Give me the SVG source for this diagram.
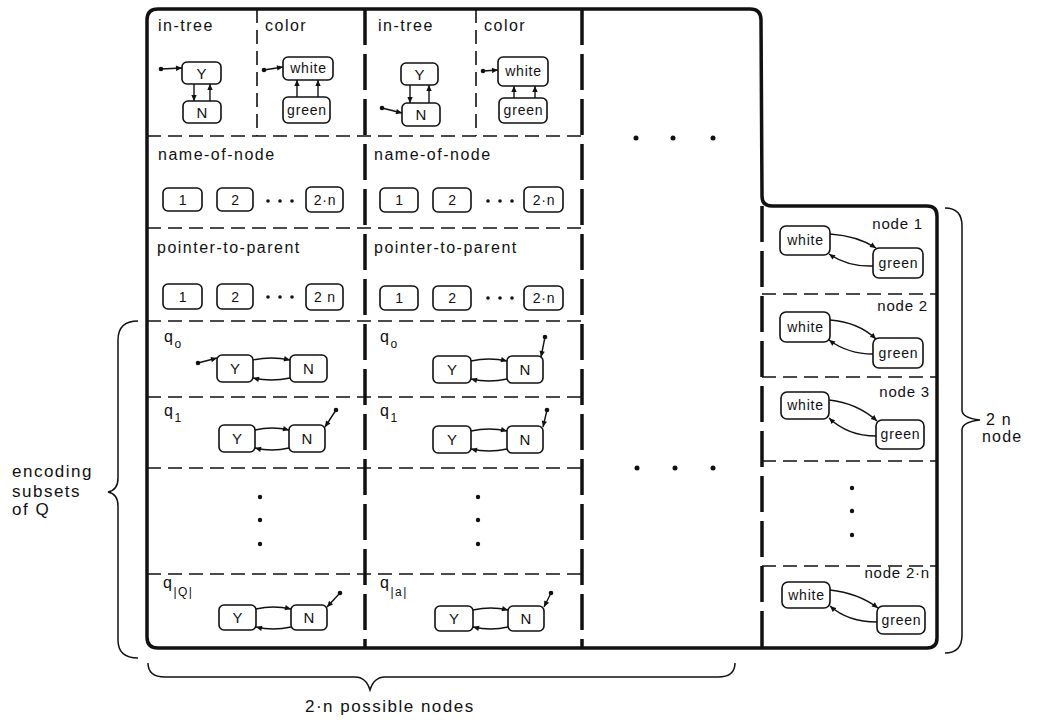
<svg xmlns="http://www.w3.org/2000/svg" width="1037" height="723" viewBox="0 0 1037 723">
<style>
.frame{fill:none;stroke:#111;stroke-width:3.5;stroke-linejoin:round}
.thick{fill:none;stroke:#111;stroke-width:3.5;stroke-dasharray:36 9}
.thin{fill:none;stroke:#111;stroke-width:1.6;stroke-dasharray:14 7}
.box{fill:#fff;stroke:#111;stroke-width:1.6}
.arr{fill:none;stroke:#111;stroke-width:1.4}
.brace{fill:none;stroke:#111;stroke-width:1.5}
.dot{fill:#111}
text{font-family:"Liberation Sans",Arial,sans-serif;fill:#111}
.lbl{font-size:16px;letter-spacing:1.5px}
.bl{font-size:14px;text-anchor:middle;letter-spacing:0.8px}
.yn{font-size:15px;text-anchor:middle}
.nl{font-size:15px;text-anchor:end;letter-spacing:0.8px}
.side{font-size:17px;letter-spacing:1.5px}
.rs{font-size:16px;letter-spacing:1.2px}
.sub{font-size:12px}
</style>
<defs>
<marker id="ah" viewBox="0 0 10 10" refX="10" refY="5" markerWidth="7" markerHeight="6" markerUnits="userSpaceOnUse" orient="auto"><path d="M0,0.5 L10,5 L0,9.5 z" fill="#111"/></marker>
</defs>

<g id="frame">
<path class="frame" d="M147,20 Q147,9 158,9 L750,9 Q761,9 761,20 L762,196 Q762,206 772,206 L927,206 Q937,206 937,216 L937,638 Q937,648 927,648 L158,648 Q147,648 147,637 Z"/>
<line class="thick" x1="365" y1="9" x2="365" y2="648"/>
<line class="thick" x1="582" y1="9" x2="582" y2="648"/>
<line class="thick" x1="762" y1="206" x2="762" y2="648"/>
<line class="thin" x1="257" y1="9" x2="257" y2="136"/>
<line class="thin" x1="476" y1="9" x2="476" y2="136"/>
<line class="thin" x1="147" y1="136" x2="582" y2="136"/>
<line class="thin" x1="147" y1="228" x2="582" y2="228"/>
<line class="thin" x1="147" y1="321" x2="582" y2="321"/>
<line class="thin" x1="147" y1="397" x2="582" y2="397"/>
<line class="thin" x1="147" y1="468" x2="582" y2="468"/>
<line class="thin" x1="147" y1="574" x2="582" y2="574"/>
<line class="thin" x1="762" y1="294" x2="937" y2="294"/>
<line class="thin" x1="762" y1="377" x2="937" y2="377"/>
<line class="thin" x1="762" y1="461" x2="937" y2="461"/>
<line class="thin" x1="762" y1="566" x2="937" y2="566"/>
</g>

<g id="labels">
<text class="lbl" x="158" y="31">in-tree</text>
<text class="lbl" x="265" y="31">color</text>
<text class="lbl" x="378" y="31">in-tree</text>
<text class="lbl" x="484" y="31">color</text>
<text class="lbl" x="158" y="160">name-of-node</text>
<text class="lbl" x="374" y="160">name-of-node</text>
<text class="lbl" x="157" y="253">pointer-to-parent</text>
<text class="lbl" x="374" y="253">pointer-to-parent</text>
<text class="lbl" x="164" y="342">q<tspan class="sub" dy="6">o</tspan></text>
<text class="lbl" x="164" y="416">q<tspan class="sub" dy="6">1</tspan></text>
<text class="lbl" x="163" y="588">q<tspan class="sub" dy="8">|Q|</tspan></text>
<text class="lbl" x="380" y="342">q<tspan class="sub" dy="6">o</tspan></text>
<text class="lbl" x="380" y="416">q<tspan class="sub" dy="6">1</tspan></text>
<text class="lbl" x="380" y="588">q<tspan class="sub" dy="8">|a|</tspan></text>
<text class="nl" x="923" y="229">node 1</text>
<text class="nl" x="928" y="311">node 2</text>
<text class="nl" x="930" y="397">node 3</text>
<text class="nl" x="930" y="578">node 2·n</text>
<text class="side" x="12" y="477">encoding</text>
<text class="side" x="12" y="497">subsets</text>
<text class="side" x="12" y="515">of  Q</text>
<text class="rs" x="986" y="425">2 n</text>
<text class="rs" x="982" y="442">node</text>
<text class="side" x="305" y="712">2·n possible nodes</text>
</g>

<g id="dots">
<circle class="dot" cx="636" cy="138" r="2.5"/><circle class="dot" cx="673" cy="138" r="2.5"/><circle class="dot" cx="713" cy="138" r="2.5"/>
<circle class="dot" cx="637" cy="468" r="2.5"/><circle class="dot" cx="675" cy="468" r="2.5"/><circle class="dot" cx="713" cy="468" r="2.5"/>
<circle class="dot" cx="260" cy="497" r="2.2"/><circle class="dot" cx="260" cy="520" r="2.2"/><circle class="dot" cx="260" cy="544" r="2.2"/>
<circle class="dot" cx="478" cy="497" r="2.2"/><circle class="dot" cx="478" cy="520" r="2.2"/><circle class="dot" cx="478" cy="544" r="2.2"/>
<circle class="dot" cx="852" cy="488" r="2.2"/><circle class="dot" cx="852" cy="511" r="2.2"/><circle class="dot" cx="852" cy="535" r="2.2"/>
<circle class="dot" cx="268" cy="201" r="1.8"/><circle class="dot" cx="280" cy="201" r="1.8"/><circle class="dot" cx="292" cy="201" r="1.8"/>
<circle class="dot" cx="268" cy="297" r="1.8"/><circle class="dot" cx="280" cy="297" r="1.8"/><circle class="dot" cx="292" cy="297" r="1.8"/>
<circle class="dot" cx="488" cy="201" r="1.8"/><circle class="dot" cx="500" cy="201" r="1.8"/><circle class="dot" cx="512" cy="201" r="1.8"/>
<circle class="dot" cx="488" cy="298" r="1.8"/><circle class="dot" cx="500" cy="298" r="1.8"/><circle class="dot" cx="512" cy="298" r="1.8"/>
</g>

<g id="braces">
<path class="brace" d="M138,321 Q118,321 118,340 L118,478 Q118,490 108,492 Q118,494 118,506 L118,640 Q118,658 138,658"/>
<path class="brace" d="M945,208 Q962,208 962,226 L962,410 Q962,418 980,420 Q962,422 962,430 L962,635 Q962,653 945,653"/>
<path class="brace" d="M148,663 Q148,677 165,677 L355,677 Q366,677 370,690 Q374,677 385,677 L718,677 Q735,677 735,663"/>
</g>

<g id="connectors">
<circle class="dot" cx="161" cy="69" r="2.3"/><path class="arr" d="M161,69 L182,68" marker-end="url(#ah)"/>
<path class="arr" d="M194,84 L194,101" marker-end="url(#ah)"/>
<path class="arr" d="M210,101 L210,84" marker-end="url(#ah)"/>
<circle class="dot" cx="264" cy="70" r="2.3"/><path class="arr" d="M264,70 L283,67" marker-end="url(#ah)"/>
<path class="arr" d="M297,97 L297,80" marker-end="url(#ah)"/>
<path class="arr" d="M318,97 L318,80" marker-end="url(#ah)"/>
<circle class="dot" cx="382" cy="108" r="2.3"/><path class="arr" d="M382,108 L402,113" marker-end="url(#ah)"/>
<path class="arr" d="M410,85 L410,103" marker-end="url(#ah)"/>
<path class="arr" d="M429,103 L429,85" marker-end="url(#ah)"/>
<circle class="dot" cx="483" cy="71" r="2.3"/><path class="arr" d="M483,71 L498,70" marker-end="url(#ah)"/>
<path class="arr" d="M514,98 L514,86" marker-end="url(#ah)"/>
<path class="arr" d="M535,98 L535,86" marker-end="url(#ah)"/>
<circle class="dot" cx="198" cy="363" r="2.3"/><path class="arr" d="M198,363 L217,358" marker-end="url(#ah)"/>
<path class="arr" d="M253,360 Q271,356 290,360" marker-end="url(#ah)"/>
<path class="arr" d="M290,378 Q271,382 253,378" marker-end="url(#ah)"/>
<circle class="dot" cx="336" cy="410" r="2.3"/><path class="arr" d="M336,410 L325,427" marker-end="url(#ah)"/>
<path class="arr" d="M255,430 Q272,426 289,430" marker-end="url(#ah)"/>
<path class="arr" d="M289,448 Q272,452 255,448" marker-end="url(#ah)"/>
<circle class="dot" cx="340" cy="593" r="2.3"/><path class="arr" d="M340,593 L327,607" marker-end="url(#ah)"/>
<path class="arr" d="M256,609 Q273,605 291,609" marker-end="url(#ah)"/>
<path class="arr" d="M291,627 Q273,631 256,627" marker-end="url(#ah)"/>
<circle class="dot" cx="545" cy="337" r="2.3"/><path class="arr" d="M545,337 L541,357" marker-end="url(#ah)"/>
<path class="arr" d="M471,361 Q489,357 507,361" marker-end="url(#ah)"/>
<path class="arr" d="M507,379 Q489,383 471,379" marker-end="url(#ah)"/>
<circle class="dot" cx="547" cy="410" r="2.3"/><path class="arr" d="M547,410 L543,427" marker-end="url(#ah)"/>
<path class="arr" d="M471,431 Q489,427 507,431" marker-end="url(#ah)"/>
<path class="arr" d="M507,449 Q489,453 471,449" marker-end="url(#ah)"/>
<circle class="dot" cx="551" cy="593" r="2.3"/><path class="arr" d="M551,593 L544,607" marker-end="url(#ah)"/>
<path class="arr" d="M473,610 Q491,606 508,610" marker-end="url(#ah)"/>
<path class="arr" d="M508,627 Q491,631 473,627" marker-end="url(#ah)"/>
<path class="arr" d="M830,234 Q858,236 876,248" marker-end="url(#ah)"/>
<path class="arr" d="M873,266 Q848,267 829,254" marker-end="url(#ah)"/>
<path class="arr" d="M830,320 Q858,322 876,339" marker-end="url(#ah)"/>
<path class="arr" d="M873,354 Q848,354 829,340" marker-end="url(#ah)"/>
<path class="arr" d="M829,400 Q857,403 877,421" marker-end="url(#ah)"/>
<path class="arr" d="M876,436 Q848,436 829,418" marker-end="url(#ah)"/>
<path class="arr" d="M830,590 Q858,593 878,608" marker-end="url(#ah)"/>
<path class="arr" d="M877,622 Q848,622 830,606" marker-end="url(#ah)"/>
</g>

<g id="c1-intree-Y"><rect class="box" x="182" y="62" width="39" height="22" rx="5"/><text class="yn" x="201.5" y="79">Y</text></g>
<g id="c1-intree-N"><rect class="box" x="183" y="101" width="38" height="22" rx="5"/><text class="yn" x="202" y="118">N</text></g>
<g id="c1-color-white"><rect class="box" x="283" y="57" width="50" height="23" rx="5"/><text class="bl" x="308.5" y="73">white</text></g>
<g id="c1-color-green"><rect class="box" x="283" y="97" width="47" height="26" rx="5"/><text class="bl" x="307" y="115">green</text></g>
<g id="c2-intree-Y"><rect class="box" x="401" y="63" width="37" height="22" rx="5"/><text class="yn" x="419.5" y="80">Y</text></g>
<g id="c2-intree-N"><rect class="box" x="402" y="103" width="38" height="23" rx="5"/><text class="yn" x="421" y="120">N</text></g>
<g id="c2-color-white"><rect class="box" x="498" y="57" width="50" height="29" rx="5"/><text class="bl" x="523.5" y="76">white</text></g>
<g id="c2-color-green"><rect class="box" x="499" y="98" width="48" height="25" rx="5"/><text class="bl" x="523.5" y="115">green</text></g>

<g id="c1-name-1"><rect class="box" x="163" y="188" width="39" height="23" rx="5"/><text class="bl" x="183" y="205">1</text></g>
<g id="c1-name-2"><rect class="box" x="217" y="188" width="36" height="23" rx="5"/><text class="bl" x="235.5" y="205">2</text></g>
<g id="c1-name-2n"><rect class="box" x="306" y="187" width="37" height="25" rx="5"/><text class="bl" x="325" y="205">2·n</text></g>
<g id="c1-ptr-1"><rect class="box" x="163" y="284" width="39" height="25" rx="5"/><text class="bl" x="183" y="302">1</text></g>
<g id="c1-ptr-2"><rect class="box" x="217" y="284" width="36" height="25" rx="5"/><text class="bl" x="235.5" y="302">2</text></g>
<g id="c1-ptr-2n"><rect class="box" x="306" y="284" width="37" height="26" rx="5"/><text class="bl" x="325" y="302">2 n</text></g>
<g id="c2-name-1"><rect class="box" x="380" y="188" width="38" height="24" rx="5"/><text class="bl" x="399.5" y="205">1</text></g>
<g id="c2-name-2"><rect class="box" x="433" y="188" width="38" height="24" rx="5"/><text class="bl" x="452.5" y="205">2</text></g>
<g id="c2-name-2n"><rect class="box" x="524" y="187" width="39" height="25" rx="5"/><text class="bl" x="544" y="205">2·n</text></g>
<g id="c2-ptr-1"><rect class="box" x="380" y="286" width="38" height="24" rx="5"/><text class="bl" x="399.5" y="303">1</text></g>
<g id="c2-ptr-2"><rect class="box" x="433" y="286" width="38" height="24" rx="5"/><text class="bl" x="452.5" y="303">2</text></g>
<g id="c2-ptr-2n"><rect class="box" x="524" y="286" width="39" height="24" rx="5"/><text class="bl" x="544" y="303">2·n</text></g>

<g id="c1-q0-Y"><rect class="box" x="217" y="355" width="36" height="27" rx="5"/><text class="yn" x="235" y="374">Y</text></g>
<g id="c1-q0-N"><rect class="box" x="290" y="355" width="37" height="27" rx="5"/><text class="yn" x="308.5" y="374">N</text></g>
<g id="c1-q1-Y"><rect class="box" x="219" y="425" width="36" height="27" rx="5"/><text class="yn" x="237" y="444">Y</text></g>
<g id="c1-q1-N"><rect class="box" x="289" y="425" width="36" height="27" rx="5"/><text class="yn" x="307" y="444">N</text></g>
<g id="c1-qQ-Y"><rect class="box" x="219" y="605" width="37" height="25" rx="5"/><text class="yn" x="237.5" y="623">Y</text></g>
<g id="c1-qQ-N"><rect class="box" x="291" y="605" width="36" height="25" rx="5"/><text class="yn" x="309" y="623">N</text></g>
<g id="c2-q0-Y"><rect class="box" x="433" y="356" width="38" height="27" rx="5"/><text class="yn" x="452" y="375">Y</text></g>
<g id="c2-q0-N"><rect class="box" x="507" y="356" width="36" height="27" rx="5"/><text class="yn" x="525" y="375">N</text></g>
<g id="c2-q1-Y"><rect class="box" x="433" y="426" width="38" height="27" rx="5"/><text class="yn" x="452" y="445">Y</text></g>
<g id="c2-q1-N"><rect class="box" x="507" y="426" width="36" height="27" rx="5"/><text class="yn" x="525" y="445">N</text></g>
<g id="c2-qQ-Y"><rect class="box" x="435" y="606" width="38" height="25" rx="5"/><text class="yn" x="454" y="624">Y</text></g>
<g id="c2-qQ-N"><rect class="box" x="508" y="606" width="36" height="25" rx="5"/><text class="yn" x="526" y="624">N</text></g>

<g id="n1-white"><rect class="box" x="780" y="226" width="50" height="29" rx="6"/><text class="bl" x="805.5" y="245">white</text></g>
<g id="n1-green"><rect class="box" x="873" y="248" width="50" height="30" rx="6"/><text class="bl" x="898.5" y="268">green</text></g>
<g id="n2-white"><rect class="box" x="780" y="312" width="50" height="30" rx="6"/><text class="bl" x="805.5" y="332">white</text></g>
<g id="n2-green"><rect class="box" x="873" y="338" width="50" height="30" rx="6"/><text class="bl" x="898.5" y="358">green</text></g>
<g id="n3-white"><rect class="box" x="781" y="392" width="48" height="27" rx="6"/><text class="bl" x="805.5" y="410">white</text></g>
<g id="n3-green"><rect class="box" x="876" y="420" width="48" height="29" rx="6"/><text class="bl" x="900.5" y="439">green</text></g>
<g id="n2n-white"><rect class="box" x="782" y="582" width="48" height="26" rx="6"/><text class="bl" x="806.5" y="600">white</text></g>
<g id="n2n-green"><rect class="box" x="877" y="606" width="48" height="28" rx="6"/><text class="bl" x="901.5" y="625">green</text></g>
</svg>
